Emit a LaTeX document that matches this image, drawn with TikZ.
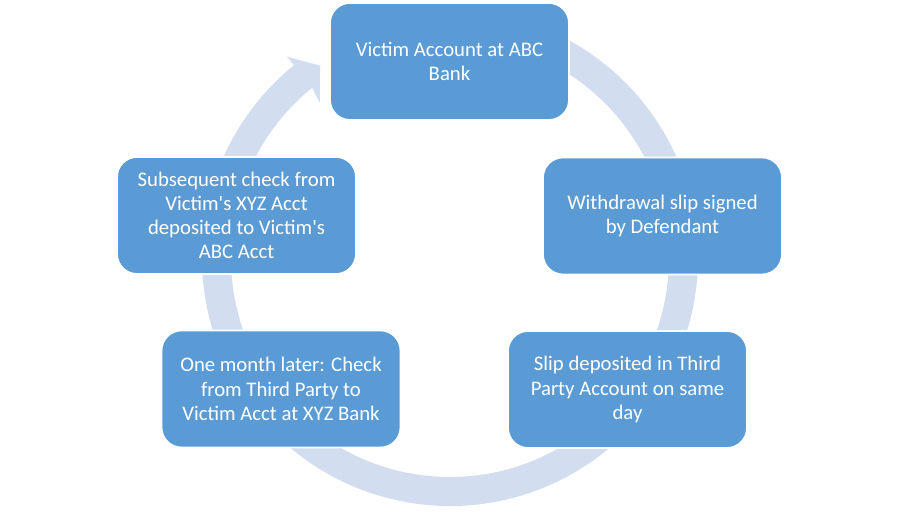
\documentclass[tikz,border=0pt]{standalone}
\usepackage{fontspec}
\setmainfont{Carlito}
\usepackage{tikz}
\usetikzlibrary{calc}
\definecolor{boxblue}{HTML}{5B9BD5}
\definecolor{ringblue}{HTML}{D2DEEF}
\tikzset{
  cyclebox/.style={draw=white, line width=1pt, fill=boxblue, rounded corners=0.4cm,
    minimum width=4.78cm, minimum height=2.34cm, inner sep=2pt,
    text=white, align=center, font=\fontsize{11.8}{13.8}\selectfont}
}

\begin{document}
\begin{tikzpicture}
\useasboundingbox (0, 0) rectangle (18, 10.52);

% anello
\coordinate (c) at (9, 5.36);
\fill[ringblue] ($(c)+(80:4.96)$) arc[start angle=80, end angle=-231, radius=4.96]
    -- ($(c)+(129:5.18)$) -- ($(c)+(124:4.64)$) -- ($(c)+(130:4.05)$)
    -- ($(c)+(129:4.38)$) arc[start angle=-231, end angle=80, radius=4.38] -- cycle;

% passi
\node[cyclebox] (conto) at (8.99, 9.29) {Victim Account at ABC\\Bank};
\node[cyclebox] (prelievo) at (13.25, 6.20) {Withdrawal slip signed\\by Defendant};
\node[cyclebox] (deposito) at (12.55, 2.73) {Slip deposited in Third\\Party Account on same\\day};
\node[cyclebox] (assegno) at (5.62, 2.74) {One month later: Check\\from Third Party to\\Victim Acct at XYZ Bank};
\node[cyclebox] (rientro) at (4.73, 6.21) {Subsequent check from\\Victim\textquotesingle s XYZ Acct\\deposited to Victim\textquotesingle s\\ABC Acct};
\end{tikzpicture}
\end{document}
